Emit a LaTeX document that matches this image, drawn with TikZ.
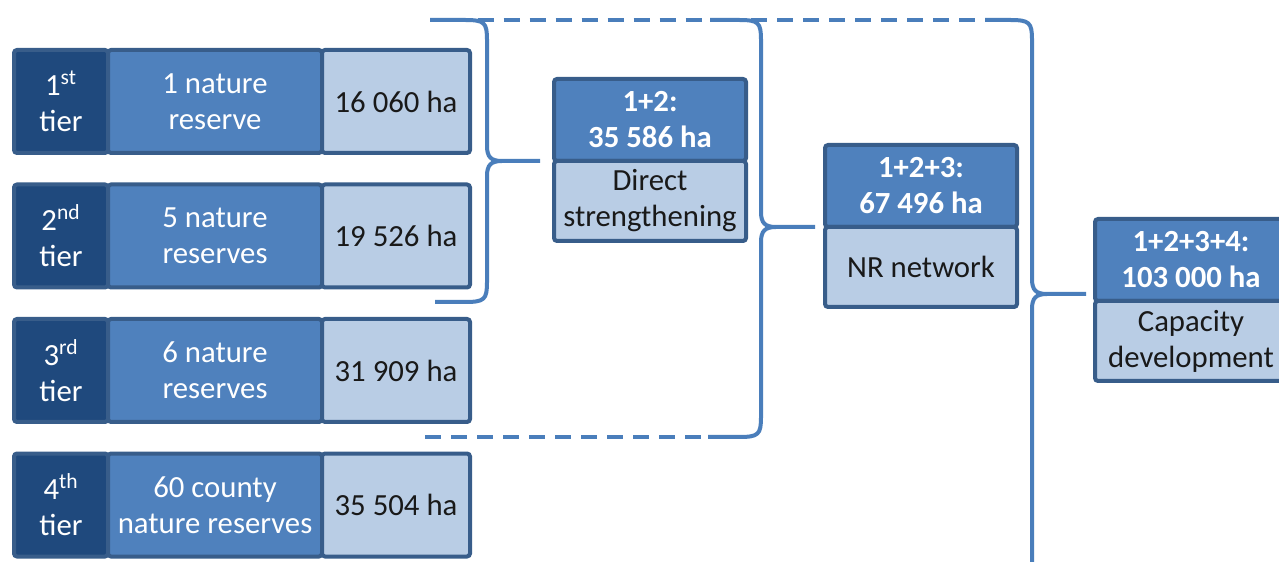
\documentclass[tikz,border=0pt]{standalone}
\usepackage{fontspec}
\setmainfont{Carlito}
\usepackage{xcolor}
\usepackage{tikz}
\usetikzlibrary{positioning, calc}
\definecolor{fonce}{HTML}{1F497D}
\definecolor{moyen}{HTML}{4F81BD}
\definecolor{clair}{HTML}{B9CDE5}
\definecolor{bord}{HTML}{385D8A}
\definecolor{trait}{HTML}{4A7EBB}
\tikzset{
  case/.style={rectangle, rounded corners=0.6mm, draw=bord, line width=0.8mm,
    outer sep=0pt, inner sep=1mm, align=center, minimum height=20.6mm,
    font=\fontsize{17.5}{20.5}\selectfont},
  rang/.style={case, fill=fonce, text=white, minimum width=18.8mm},
  zone/.style={case, fill=moyen, text=white, minimum width=42.8mm},
  surf/.style={case, fill=clair, text=black!90, minimum width=29.6mm},
  tete/.style={case, fill=moyen, text=white, minimum width=38.4mm,
    minimum height=16.4mm, font=\fontsize{17.5}{20.5}\selectfont\bfseries},
  corps/.style={case, fill=clair, text=black!90, minimum width=38.4mm,
    minimum height=16mm},
  accolade/.style={draw=trait, line width=0.8mm, line join=round},
  pointille/.style={draw=trait, line width=0.75mm, dash pattern=on 3.2mm off 2mm}
}

\begin{document}
\begin{tikzpicture}[node distance=6.3mm and 0mm]
    \useasboundingbox (0,0) rectangle (255.8mm,-112.4mm);
    \clip (0,0) rectangle (255.8mm,-112.4mm);

    % Les quatre niveaux
    \node[rang, anchor=north west] (r1) at (2.8mm,-10mm) {1\textsuperscript{st}\\tier};
    \node[zone, right=of r1] (z1) {1 nature\\reserve};
    \node[surf, right=of z1] (s1) {16 060 ha};

    \node[rang, below=of r1] (r2) {2\textsuperscript{nd}\\tier};
    \node[zone, right=of r2] (z2) {5 nature\\reserves};
    \node[surf, right=of z2] (s2) {19 526 ha};

    \node[rang, below=of r2] (r3) {3\textsuperscript{rd}\\tier};
    \node[zone, right=of r3] (z3) {6 nature\\reserves};
    \node[surf, right=of z3] (s3) {31 909 ha};

    \node[rang, below=of r3] (r4) {4\textsuperscript{th}\\tier};
    \node[zone, right=of r4] (z4) {60 county\\nature reserves};
    \node[surf, right=of z4] (s4) {35 504 ha};

    % Totaux cumules
    \node[tete, anchor=north west] (t12) at (110.8mm,-15.8mm) {1+2:\\35 586 ha};
    \node[corps, below=0mm of t12] (c12) {Direct\\strengthening};

    \node[tete, anchor=north west] (t123) at (165mm,-29mm) {1+2+3:\\67 496 ha};
    \node[corps, below=0mm of t123] (c123) {NR network};

    \node[tete, anchor=north west] (t1234) at (219mm,-43.8mm) {1+2+3+4:\\103 000 ha};
    \node[corps, below=0mm of t1234] (c1234) {Capacity\\development};

    % Pointes des accolades
    \coordinate (p12) at ($(t12.south west)+(-2.8mm,0)$);
    \coordinate (p123) at ($(t123.south west)+(-2mm,0)$);
    \coordinate (p1234) at ($(t1234.south west)+(-1.8mm,1.4mm)$);

    % Accolade 1+2
    \draw[accolade] (86mm,-4mm) -- (93mm,-4mm) .. controls (96.9mm,-4mm) and (97.4mm,-4.5mm) .. (97.4mm,-8mm)
      -- (97.4mm,-29.2mm) .. controls (97.4mm,-31.4mm) and (98.2mm,-32.2mm) .. (100.4mm,-32.2mm) -- (p12)
      (100.4mm,-32.2mm) .. controls (98.2mm,-32.2mm) and (97.4mm,-33mm) .. (97.4mm,-35.2mm)
      -- (97.4mm,-56.4mm) .. controls (97.4mm,-59.9mm) and (96.9mm,-60.4mm) .. (93mm,-60.4mm) -- (87mm,-60.4mm);

    % Accolade 1+2+3
    \draw[accolade] (142mm,-4mm) -- (147.8mm,-4mm) .. controls (151.7mm,-4mm) and (152.2mm,-4.5mm) .. (152.2mm,-8mm)
      -- (152.2mm,-42.4mm) .. controls (152.2mm,-44.6mm) and (153mm,-45.4mm) .. (155.2mm,-45.4mm) -- (p123)
      (155.2mm,-45.4mm) .. controls (153mm,-45.4mm) and (152.2mm,-46.2mm) .. (152.2mm,-48.4mm)
      -- (152.2mm,-83.4mm) .. controls (152.2mm,-86.9mm) and (151.7mm,-87.4mm) .. (147.8mm,-87.4mm) -- (141.6mm,-87.4mm);
    \draw[pointille] (95.5mm,-4mm) -- (142mm,-4mm);
    \draw[pointille] (85mm,-87.4mm) -- (141.6mm,-87.4mm);

    % Accolade 1+2+3+4 (coupee en bas)
    \draw[accolade] (197mm,-4mm) -- (202mm,-4mm) .. controls (205.9mm,-4mm) and (206.4mm,-4.5mm) .. (206.4mm,-8mm)
      -- (206.4mm,-55.8mm) .. controls (206.4mm,-58mm) and (207.2mm,-58.8mm) .. (209.4mm,-58.8mm) -- (p1234)
      (209.4mm,-58.8mm) .. controls (207.2mm,-58.8mm) and (206.4mm,-59.6mm) .. (206.4mm,-61.8mm)
      -- (206.4mm,-116mm);
    \draw[pointille] (150.2mm,-4mm) -- (197mm,-4mm);
\end{tikzpicture}
\end{document}
